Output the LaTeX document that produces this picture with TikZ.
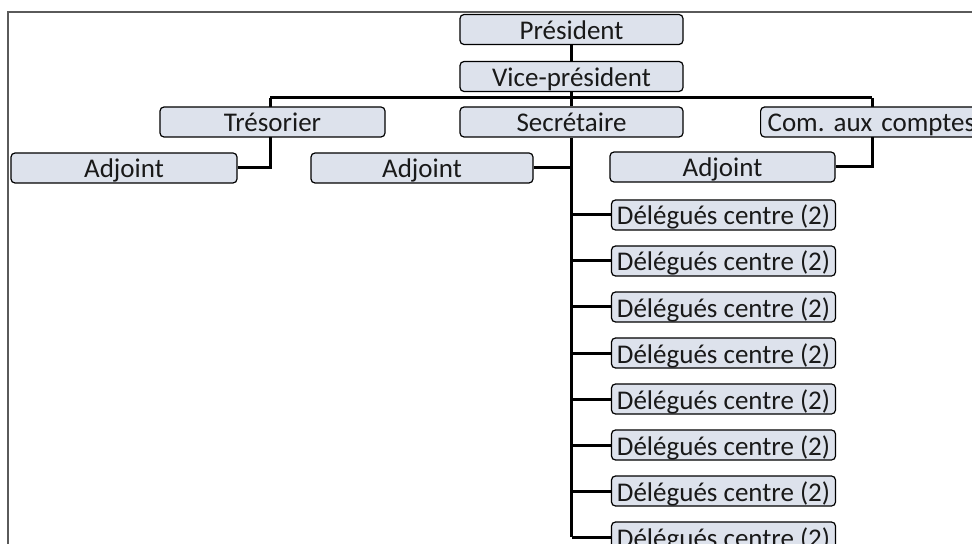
\documentclass[tikz,border=0pt]{standalone}
\usepackage{fontspec}
\setmainfont{Carlito}
\usetikzlibrary{backgrounds}
\definecolor{boxfill}{RGB}{221,226,236}
\definecolor{framegray}{RGB}{90,90,90}
\tikzset{
  orgbox/.style={draw=black, line width=1.2bp, rounded corners=4bp, fill=boxfill,
    minimum height=30bp, inner sep=0pt, text=black!90,
    text height=20bp, text depth=0pt,
    font=\fontsize{27bp}{28bp}\selectfont\frenchspacing},
  link/.style={line width=3bp, black}
}
\begin{document}
\begin{tikzpicture}[x=1bp, y=-1bp]
\useasboundingbox (0,0) rectangle (972,544);
\clip (0,0) rectangle (972,544);
% page frame
\draw[framegray, line width=1.5bp] (8,544) -- (8,12) -- (972,12);

% top of the chart
\node[orgbox, minimum width=223bp] (pres) at (571.5,29.5) {Président};
\node[orgbox, minimum width=223bp] (vice) at (571.5,76.5) {Vice-président};

% second level
\node[orgbox, minimum width=225bp] (tres) at (272.5,122) {Trésorier};
\node[orgbox, minimum width=223bp] (sec) at (571.5,122) {Secrétaire};
\node[orgbox, minimum width=232bp, text width=224bp, align=left, inner xsep=7bp,
      anchor=west] (com) at (760,122) {Com. aux comptes};

% deputies
\node[orgbox, minimum width=226bp] (adj1) at (124,168) {Adjoint};
\node[orgbox, minimum width=222bp] (adj2) at (422,168) {Adjoint};
\node[orgbox, minimum width=225bp] (adj3) at (722.5,167) {Adjoint};

% centre delegates
\foreach \i [evaluate=\i as \yy using 215+46*(\i-1)] in {1,...,8}{
  \node[orgbox, minimum width=224bp] (del\i) at (723.5,\yy) {Délégués centre (2)};
}

\coordinate (barL) at (270,98);
\coordinate (barR) at (872,98);

\begin{scope}[on background layer]
  \draw[link] (pres.south) -- (vice.north);
  \draw[link] (vice.south) -- (vice.south |- barL);
  \draw[link] (barL) -- (barR);
  \draw[link] (barL) |- (adj1.east);
  \draw[link] (barR) |- (adj3.east);
  \draw[link] (sec.north) -- (sec.north |- barL);
  \draw[link] (sec.south) -- (sec.south |- del8.west);
  \draw[link] (adj2.east) -- (adj2.east -| sec.south);
  \foreach \i in {1,...,8}{
    \draw[link] (del\i.west -| sec.south) -- (del\i.west);
  }
\end{scope}
\end{tikzpicture}
\end{document}
